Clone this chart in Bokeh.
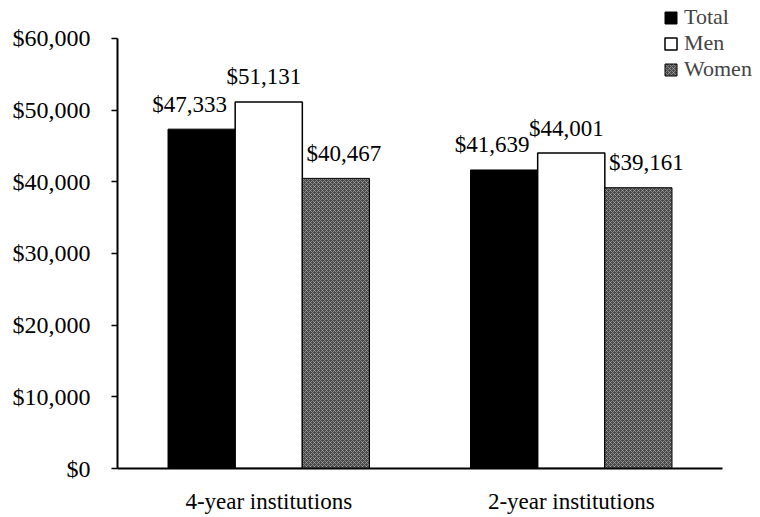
from bokeh.plotting import figure
from bokeh.models import (ColumnDataSource, Range1d, NumeralTickFormatter,
                          FixedTicker, Legend, LegendItem)
from bokeh.transform import dodge
from bokeh.core.properties import value
from bokeh.embed import file_html
from bokeh.resources import INLINE

categories = ["4-year institutions", "2-year institutions"]
total = [47333, 41639]
men = [51131, 44001]
women = [40467, 39161]
y_ticks = [0, 10000, 20000, 30000, 40000, 50000, 60000]

FONT = "Liberation Serif"

pos = [i + 0.5 for i in range(len(categories))]
src = ColumnDataSource(dict(
    pos=pos,
    total=total, men=men, women=women,
    total_lbl=["${:,}".format(v) for v in total],
    men_lbl=["${:,}".format(v) for v in men],
    women_lbl=["${:,}".format(v) for v in women],
))

p = figure(x_range=Range1d(0, 2.1256), y_range=Range1d(0, 65278),
           width=760, height=516, output_backend="svg", toolbar_location=None,
           min_border_left=117, min_border_right=0, min_border_top=0, min_border_bottom=46)
p.outline_line_color = None
p.background_fill_color = "white"
p.xgrid.grid_line_color = None
p.ygrid.grid_line_color = None

w = 0.222
r_total = p.vbar(x=dodge("pos", -w), top="total", width=w, source=src,
                 fill_color="black", line_color="black", line_width=1)
r_men = p.vbar(x=dodge("pos", 0), top="men", width=w, source=src,
               fill_color="white", line_color="black", line_width=1.5)
r_women = p.vbar(x=dodge("pos", w), top="women", width=w, source=src,
                 fill_color="#4a4a4a", line_color="black", line_width=1,
                 hatch_pattern="diagonal_cross", hatch_color="#b4b4b4",
                 hatch_weight=0.6, hatch_scale=4)

lbl_kw = dict(source=src, text_font=value(FONT), text_font_size="23px",
              text_align="center", text_baseline="alphabetic", text_color="black")
p.text(x=dodge("pos", -w), y="total", text="total_lbl",
       x_offset=-12, y_offset=-25, **lbl_kw)
p.text(x=dodge("pos", 0), y="men", text="men_lbl",
       x_offset=-5, y_offset=-25, **lbl_kw)
p.text(x=dodge("pos", w), y="women", text="women_lbl",
       x_offset=8, y_offset=-25, **lbl_kw)

# y axis
ya = p.yaxis[0]
ya.ticker = FixedTicker(ticks=y_ticks)
ya.bounds = (0, 60000)
ya.formatter = NumeralTickFormatter(format="$0,0")
ya.major_label_text_font = FONT
ya.major_label_text_font_size = "24px"
ya.major_label_text_color = "black"
ya.axis_line_width = 2
ya.axis_line_color = "black"
ya.major_tick_in = 0
ya.major_tick_out = 6
ya.major_tick_line_width = 1.5
ya.minor_tick_line_color = None
ya.major_label_standoff = 21

# x axis
xa = p.xaxis[0]
xa.ticker = FixedTicker(ticks=pos)
xa.major_label_overrides = {pos[i]: categories[i] for i in range(len(categories))}
xa.bounds = (0, 2.0)
xa.major_label_text_font = FONT
xa.major_label_text_font_size = "23px"
xa.major_label_text_color = "black"
xa.axis_line_width = 2
xa.axis_line_color = "black"
xa.major_tick_line_color = None
xa.minor_tick_line_color = None
xa.major_label_standoff = 14

legend = Legend(items=[LegendItem(label="Total", renderers=[r_total]),
                       LegendItem(label="Men", renderers=[r_men]),
                       LegendItem(label="Women", renderers=[r_women])],
                location=(546, 386), orientation="vertical",
                label_text_font=FONT, label_text_font_size="22px",
                glyph_width=15, glyph_height=15, label_height=20, spacing=0,
                padding=0, margin=0, label_standoff=6,
                border_line_color=None, background_fill_alpha=0)
p.add_layout(legend)

open("out.html", "w").write(file_html(p, INLINE))
